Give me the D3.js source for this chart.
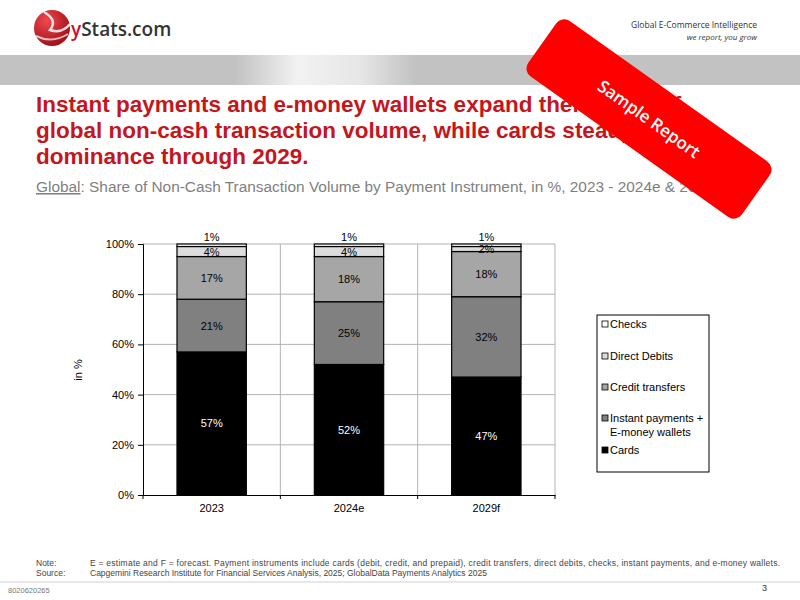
<!DOCTYPE html>
<meta charset="utf-8">
<script src="https://d3js.org/d3.v7.min.js"></script>
<style>
    body { margin: 0; background: #fff; font-family: "Liberation Sans", Arial, sans-serif; }
    svg { display: block; }
</style>
<svg width="800" height="600"></svg>

<script>
    const years = ["2023", "2024e", "2029f"];
    const instruments = ["Cards", "Instant payments + E-money wallets", "Credit transfers", "Direct Debits", "Checks"];
    const cards = [57, 52, 47];
    const instant = [21, 25, 32];
    const credit = [17, 18, 18];
    const debits = [4, 4, 2];
    const checks = [1, 1, 1];
    const yTicks = [0, 20, 40, 60, 80, 100];
    const fills = ["#000000", "#808080", "#a6a6a6", "#dcdcdc", "#ffffff"];

    const rows = years.map((y, i) => ({
        year: y,
        [instruments[0]]: cards[i], [instruments[1]]: instant[i], [instruments[2]]: credit[i],
        [instruments[3]]: debits[i], [instruments[4]]: checks[i]
    }));

    const svg = d3.select("svg");
    const defs = svg.append("defs");

    // header
    const ball = defs.append("radialGradient").attr("id", "ball").attr("cx", "35%").attr("cy", "30%").attr("r", "70%");
    ball.append("stop").attr("offset", "0%").attr("stop-color", "#f0484e");
    ball.append("stop").attr("offset", "100%").attr("stop-color", "#a3121a");
    svg.append("circle").attr("cx", 52).attr("cy", 28).attr("r", 18).attr("fill", "url(#ball)");
    svg.append("path").attr("d", "M44,12 Q58,20 50,30 Q62,34 70,24").attr("fill", "none")
        .attr("stroke", "#fff").attr("stroke-width", 2.5).attr("opacity", 0.85);
    svg.append("path").attr("d", "M36,36 Q52,44 68,34").attr("fill", "none")
        .attr("stroke", "#fff").attr("stroke-width", 2).attr("opacity", 0.7);
    const logo = svg.append("text").attr("x", 71).attr("y", 36).attr("font-size", 19)
        .attr("font-family", "'Open Sans', sans-serif").attr("font-weight", 600);
    logo.append("tspan").attr("fill", "#c8102e").text("y");
    logo.append("tspan").attr("fill", "#333").text("Stats.com");

    svg.append("text").attr("x", 757).attr("y", 28).attr("text-anchor", "end").attr("font-size", 8.5)
        .attr("font-family", "'Open Sans', sans-serif").attr("fill", "#333").text("Global E-Commerce Intelligence");
    svg.append("text").attr("x", 757).attr("y", 40).attr("text-anchor", "end").attr("font-size", 8)
        .attr("font-family", "'Open Sans', sans-serif").attr("font-style", "italic").attr("fill", "#333").text("we report, you grow");

    const band = defs.append("linearGradient").attr("id", "band").attr("x1", "0").attr("x2", "1");
    band.append("stop").attr("offset", "0%").attr("stop-color", "#c2c2c2");
    band.append("stop").attr("offset", "35%").attr("stop-color", "#f2f2f2");
    band.append("stop").attr("offset", "70%").attr("stop-color", "#e6e6e6");
    band.append("stop").attr("offset", "100%").attr("stop-color", "#c2c2c2");
    svg.append("rect").attr("x", 0).attr("y", 55).attr("width", 800).attr("height", 30).attr("fill", "#c2c2c2");
    svg.append("rect").attr("x", 235).attr("y", 55).attr("width", 180).attr("height", 30).attr("fill", "url(#band)");

    // title
    const titleLines = ["Instant payments and e-money wallets expand their share of",
        "global non-cash transaction volume, while cards steady their",
        "dominance through 2029."];
    svg.append("g").selectAll("text").data(titleLines).join("text")
        .attr("x", 36).attr("y", (d, i) => 112 + i * 26)
        .attr("font-size", 22.5).attr("font-weight", "bold").attr("fill", "#c4161c")
        .text(d => d);

    const sub = svg.append("text").attr("x", 36).attr("y", 192).attr("font-size", 15.4).attr("fill", "#7f7f7f");
    sub.append("tspan").attr("text-decoration", "underline").text("Global");
    sub.append("tspan").text(": Share of Non-Cash Transaction Volume by Payment Instrument, in %, 2023 - 2024e & 2029f");

    // chart
    const x = d3.scaleBand().domain(years).range([143, 555]).paddingInner(0).paddingOuter(0);
    const y = d3.scaleLinear().domain([0, 100]).range([495, 244]);
    const barW = x.bandwidth() * 0.505;

    const g = svg.append("g");
    g.append("g").selectAll("line").data(yTicks.slice(1)).join("line")
        .attr("x1", 143).attr("x2", 555).attr("y1", d => y(d)).attr("y2", d => y(d))
        .attr("stroke", "#b3b3b3");
    g.append("g").selectAll("line").data(years.map(d => x(d) + x.bandwidth())).join("line")
        .attr("x1", d => d).attr("x2", d => d).attr("y1", 244).attr("y2", 495)
        .attr("stroke", "#b3b3b3");

    const stacked = d3.stack().keys(instruments)(rows);
    const layers = g.append("g").selectAll("g").data(stacked).join("g")
        .attr("fill", (d, i) => fills[i]);
    layers.selectAll("rect").data(d => d).join("rect")
        .attr("x", d => x(d.data.year) + x.bandwidth() / 2 - barW / 2)
        .attr("width", barW)
        .attr("y", d => y(d[1]))
        .attr("height", d => y(d[0]) - y(d[1]))
        .attr("stroke", "#000").attr("stroke-width", 1.2);

    // value labels
    stacked.forEach((layer, li) => {
        g.append("g").selectAll("text").data(layer).join("text")
            .attr("x", d => x(d.data.year) + x.bandwidth() / 2)
            .attr("y", d => li === 4 ? y(d[1]) - 3 : y((d[0] + d[1]) / 2) + 4)
            .attr("text-anchor", "middle").attr("font-size", 11)
            .attr("fill", li === 0 ? "#fff" : "#000")
            .text(d => (d[1] - d[0]) + "%");
    });

    const yAxis = g.append("g").attr("transform", "translate(143,0)")
        .call(d3.axisLeft(y).tickValues(yTicks).tickFormat(d => d + "%").tickSize(5).tickPadding(4));
    yAxis.select(".domain").attr("stroke", "#000");
    yAxis.selectAll("text").attr("font-size", 11).attr("font-family", "'Liberation Sans', Arial").attr("fill", "#000");

    const xAxis = g.append("g").attr("transform", "translate(0,495)")
        .call(d3.axisBottom(x).tickSize(0).tickPadding(9));
    xAxis.select(".domain").attr("stroke", "#000").attr("stroke-width", 1.2);
    xAxis.selectAll("text").attr("font-size", 11).attr("font-family", "'Liberation Sans', Arial").attr("fill", "#000");
    xAxis.append("g").selectAll("line").data([143].concat(years.map(d => x(d) + x.bandwidth()))).join("line")
        .attr("x1", d => d).attr("x2", d => d).attr("y1", 0).attr("y2", 4).attr("stroke", "#000");

    svg.append("text").attr("transform", "translate(82,370) rotate(-90)").attr("text-anchor", "middle")
        .attr("font-size", 11).text("in %");

    // legend
    svg.append("rect").attr("x", 597).attr("y", 315).attr("width", 112).attr("height", 157)
        .attr("fill", "#fff").attr("stroke", "#000");
    const legendItems = [
        { i: 4, lines: ["Checks"], y: 324 },
        { i: 3, lines: ["Direct Debits"], y: 356 },
        { i: 2, lines: ["Credit transfers"], y: 387 },
        { i: 1, lines: ["Instant payments +", "E-money wallets"], y: 418 },
        { i: 0, lines: ["Cards"], y: 450 }
    ];
    const leg = svg.append("g").selectAll("g").data(legendItems).join("g");
    leg.append("rect").attr("x", 602).attr("y", d => d.y - 3).attr("width", 6).attr("height", 6)
        .attr("fill", d => fills[d.i]).attr("stroke", "#000").attr("stroke-width", 0.8);
    leg.each(function (d) {
        d3.select(this).selectAll("text").data(d.lines).join("text")
            .attr("x", 610).attr("y", (t, k) => d.y + 4 + k * 14).attr("font-size", 11).text(t => t);
    });

    // footer
    const foot = svg.append("g").attr("font-size", 8.5).attr("fill", "#444");
    foot.append("text").attr("x", 36).attr("y", 566).text("Note:");
    foot.append("text").attr("x", 36).attr("y", 576).text("Source:");
    foot.append("text").attr("x", 90).attr("y", 566).attr("textLength", 690).attr("lengthAdjust", "spacing")
        .text("E = estimate and F = forecast. Payment instruments include cards (debit, credit, and prepaid), credit transfers, direct debits, checks, instant payments, and e-money wallets.");
    foot.append("text").attr("x", 90).attr("y", 576)
        .text("Capgemini Research Institute for Financial Services Analysis, 2025; GlobalData Payments Analytics 2025");
    svg.append("line").attr("x1", 0).attr("x2", 800).attr("y1", 582).attr("y2", 582).attr("stroke", "#d0d0d0");
    svg.append("text").attr("x", 8).attr("y", 593).attr("font-size", 7.5).attr("fill", "#777").text("8020620265");
    svg.append("text").attr("x", 762).attr("y", 591).attr("font-size", 9).attr("fill", "#333").text("3");

    // sample banner
    const banner = svg.append("g").attr("transform", "translate(649,119) rotate(35.4)");
    banner.append("rect").attr("x", -131).attr("y", -34).attr("width", 262).attr("height", 68)
        .attr("rx", 10).attr("fill", "#ff0000");
    banner.append("text").attr("y", 6).attr("text-anchor", "middle").attr("fill", "#fff")
        .attr("font-size", 17).attr("font-weight", 600).attr("font-family", "'Open Sans', sans-serif")
        .text("Sample Report");
</script>
